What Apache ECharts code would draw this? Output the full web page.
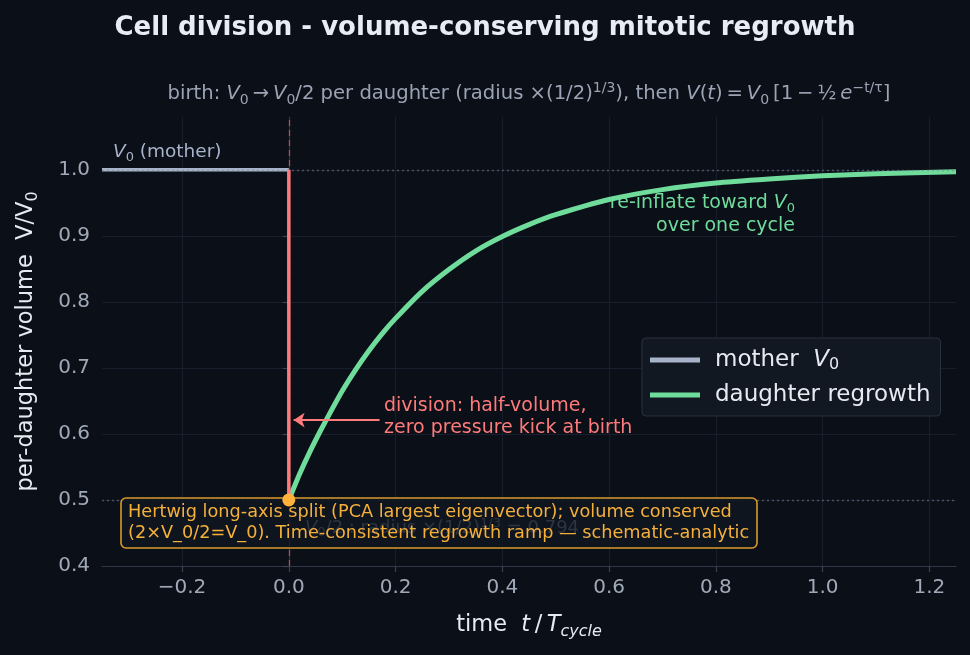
<!DOCTYPE html>
<html>
<head>
<meta charset="utf-8">
<script src="https://cdn.jsdelivr.net/npm/echarts@6/dist/echarts.min.js"></script>
<style>
  html, body { margin: 0; padding: 0; background: #0b0f17; }
  #chart { width: 970px; height: 655px; }
</style>
</head>
<body>
<div id="chart"></div>
<script>
// values
const tMother = [-0.35, 0];
const vMother = [1.0, 1.0];
const tDaughter = [0, 0.02, 0.04, 0.06, 0.08, 0.1, 0.125, 0.15, 0.175, 0.2, 0.25, 0.3, 0.35, 0.4, 0.45, 0.5, 0.6, 0.7, 0.8, 0.9, 1.0, 1.1, 1.25];
const vDaughter = [0.500, 0.539, 0.574, 0.606, 0.636, 0.665, 0.697, 0.726, 0.752, 0.775, 0.816, 0.849, 0.877, 0.899, 0.917, 0.932, 0.955, 0.970, 0.980, 0.986, 0.991, 0.994, 0.997];
const tDivision = [0, 0];
const vDivision = [0.5, 1.0];
const birthPoint = [0, 0.5];
const refLevels = [1.0, 0.5];
const arrowFrom = [0.17, 0.621];
const arrowTo = [0.009, 0.621];

const FONT = 'DejaVu Sans';
const BG = '#0b0f17';

const mathRich = (size, color) => ({
    i: { fontStyle: 'italic', fontSize: size, color: color, fill: color, fontFamily: FONT },
    sub: { fontSize: Math.round(size * 0.7), lineHeight: Math.round(size * 0.7), verticalAlign: 'bottom', color: color, fill: color, fontFamily: FONT },
    isub: { fontStyle: 'italic', fontSize: Math.round(size * 0.7), lineHeight: Math.round(size * 0.7), verticalAlign: 'bottom', color: color, fill: color, fontFamily: FONT },
    sup: { fontSize: Math.round(size * 0.7), lineHeight: Math.round(size * 0.7), verticalAlign: 'top', color: color, fill: color, fontFamily: FONT }
});

const fmtTick = v => (v < 0 ? '\u2212' : '') + Math.abs(v).toFixed(1);

const chart = echarts.init(document.getElementById('chart'));

const option = {
    backgroundColor: BG,
    animation: false,
    title: {
        text: 'Cell division - volume-conserving mitotic regrowth',
        left: 'center',
        top: 10,
        textStyle: { color: '#e8ecf4', fontSize: 26, fontWeight: 'bold', fontFamily: FONT }
    },
    grid: { left: 102, right: 14, top: 117, bottom: 89 },
    legend: {
        data: ['mother', 'daughter regrowth'],
        orient: 'vertical',
        left: 642,
        top: 338,
        icon: 'rect',
        itemWidth: 50,
        itemHeight: 5,
        itemGap: 9,
        padding: [9, 10, 8, 8],
        backgroundColor: '#111822',
        borderColor: '#2a3140',
        borderWidth: 1,
        borderRadius: 4,
        formatter: name => name === 'mother' ? 'mother  {i|V}{sub|0}' : name,
        textStyle: {
            color: '#e6eaf2', fontSize: 23, fontFamily: FONT, lineHeight: 26,
            padding: [0, 0, 0, 10],
            rich: mathRich(23, '#e6eaf2')
        }
    },
    xAxis: {
        type: 'value',
        min: -0.35,
        max: 1.25,
        splitNumber: 8,
        name: 'time  {i|t}\u2009/\u2009{i|T}{isub|cycle}',
        nameLocation: 'middle',
        nameGap: 44,
        nameTextStyle: { color: '#e6eaf2', fontSize: 22.5, fontFamily: FONT, lineHeight: 30, rich: mathRich(22.5, '#e6eaf2') },
        axisLine: { show: true, onZero: false, lineStyle: { color: '#2f3646', width: 1.2 } },
        axisTick: { show: true, length: 6, lineStyle: { color: '#3a4252', width: 1.2 } },
        axisLabel: { color: '#a0a9b8', fontSize: 20, fontFamily: FONT, margin: 12, showMinLabel: false, showMaxLabel: false, formatter: fmtTick },
        splitLine: { show: true, showMinLine: false, showMaxLine: false, lineStyle: { color: '#181e2b', width: 1 } }
    },
    yAxis: {
        type: 'value',
        min: 0.4,
        max: 1.08,
        interval: 0.1,
        name: 'per-daughter volume  V/V{sub|0}',
        nameLocation: 'middle',
        nameGap: 61,
        nameTextStyle: { color: '#e6eaf2', fontSize: 22.5, fontFamily: FONT, lineHeight: 30, rich: mathRich(22.5, '#e6eaf2') },
        axisLine: { show: true, lineStyle: { color: '#2f3646', width: 1.2 } },
        axisTick: { show: true, length: 6, lineStyle: { color: '#3a4252', width: 1.2 } },
        axisLabel: { color: '#a0a9b8', fontSize: 20, fontFamily: FONT, margin: 12, showMaxLabel: false, formatter: fmtTick },
        splitLine: { show: true, showMinLine: false, showMaxLine: false, lineStyle: { color: '#181e2b', width: 1 } }
    },
    series: [
        {
            name: 'mother',
            type: 'line',
            data: tMother.map((t, i) => [t, vMother[i]]),
            symbol: 'none',
            color: '#a7b3c8',
            lineStyle: { color: '#a7b3c8', width: 3.5 },
            z: 2
        },
        {
            name: 'refs',
            type: 'line',
            data: [],
            z: 3,
            markLine: {
                silent: true,
                symbol: 'none',
                label: { show: false },
                data: refLevels.map(v => ({ yAxis: v, lineStyle: { color: 'rgba(120,130,150,0.55)', type: [2, 3], width: 1.3 } }))
                    .concat([{ xAxis: 0, lineStyle: { color: 'rgba(230,95,100,0.7)', type: [6, 4], width: 1.3 } }])
            }
        },
        {
            name: 'daughter regrowth',
            type: 'line',
            data: tDaughter.map((t, i) => [t, vDaughter[i]]),
            symbol: 'none',
            smooth: 0.2,
            color: '#6fdc9c',
            lineStyle: { color: '#6fdc9c', width: 5 },
            z: 4
        },
        {
            name: 'division',
            type: 'line',
            data: tDivision.map((t, i) => [t, vDivision[i]]),
            symbol: 'none',
            lineStyle: { color: '#ff7b7b', width: 3.5 },
            z: 5,
            markLine: {
                silent: true,
                symbol: ['none', 'arrow'],
                symbolSize: 11,
                label: { show: false },
                lineStyle: { color: '#ff7b7b', width: 2, type: 'solid' },
                data: [[{ coord: arrowFrom }, { coord: arrowTo }]]
            }
        },
        {
            name: 'birth',
            type: 'scatter',
            data: [birthPoint],
            symbolSize: 13,
            itemStyle: { color: '#ffb13b', opacity: 1 },
            z: 20
        }
    ],
    graphic: [
        {
            type: 'text', x: 529, y: 94, z: 1,
            style: {
                text: 'birth: {i|V}{sub|0}\u2009\u2192\u2009{i|V}{sub|0}/2 per daughter (radius \u00d7(1/2){sup|1/3}), then {i|V}({i|t})\u2009=\u2009{i|V}{sub|0}\u2009[1\u2009\u2212\u2009\u00bd\u2009{i|e}{sup|\u2212t/\u03c4}]',
                fill: '#9ba4b4', fontSize: 19.6, fontFamily: FONT, lineHeight: 26,
                align: 'center', verticalAlign: 'middle',
                rich: mathRich(19.6, '#9ba4b4')
            }
        },
        {
            type: 'text', x: 113, y: 152, z: 1,
            style: {
                text: '{i|V}{sub|0} (mother)',
                fill: '#a7b3c8', fontSize: 18.5, fontFamily: FONT, lineHeight: 24,
                align: 'left', verticalAlign: 'middle',
                rich: mathRich(18.5, '#a7b3c8')
            }
        },
        {
            type: 'text', x: 795, y: 215, z: 1,
            style: {
                text: 're-inflate toward {i|V}{sub|0}\nover one cycle',
                fill: '#6fdc9c', fontSize: 19, fontFamily: FONT, lineHeight: 23,
                align: 'right', verticalAlign: 'middle',
                rich: mathRich(19, '#6fdc9c')
            }
        },
        {
            type: 'text', x: 384, y: 417, z: 1,
            style: {
                text: 'division: half-volume,\nzero pressure kick at birth',
                fill: '#ff7b7b', fontSize: 19, fontFamily: FONT, lineHeight: 22,
                align: 'left', verticalAlign: 'middle'
            }
        },
        {
            type: 'rect', x: 121, y: 498, z: 10,
            shape: { width: 636, height: 50, r: 5 },
            style: { fill: 'rgba(16,22,32,0.9)', stroke: '#d99a2c', lineWidth: 1.6 }
        },
        {
            type: 'text', x: 305, y: 528, z: 10,
            style: {
                text: '{i|V}{sub|0}/2 : radius \u00d7(1/2){sup|1/3} = 0.794',
                fill: '#2e3542', fontSize: 18, fontFamily: FONT, lineHeight: 22,
                align: 'left', verticalAlign: 'middle',
                rich: mathRich(18, '#2e3542')
            }
        },
        {
            type: 'text', x: 128, y: 523, z: 11,
            style: {
                text: 'Hertwig long-axis split (PCA largest eigenvector); volume conserved\n(2\u00d7V_0/2=V_0). Time-consistent regrowth ramp \u2014 schematic-analytic',
                fill: '#f5b03a', fontSize: 17.7, fontFamily: FONT, lineHeight: 21,
                align: 'left', verticalAlign: 'middle'
            }
        }
    ]
};

chart.setOption(option);
</script>
</body>
</html>
